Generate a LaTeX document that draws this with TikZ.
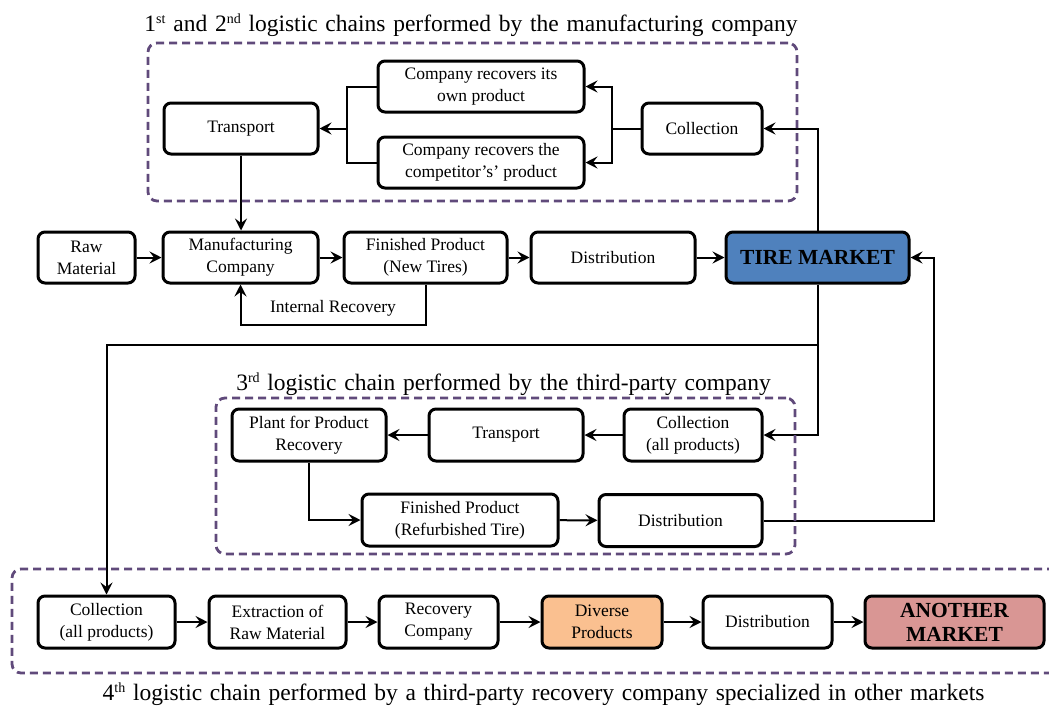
\documentclass[tikz,border=0pt]{standalone}
\usepackage{fontspec}
\setmainfont{Liberation Serif}
\usetikzlibrary{arrows.meta}
\definecolor{dashpurple}{HTML}{604A7B}
\definecolor{tireblue}{HTML}{4F81BD}
\definecolor{diverseorange}{HTML}{FAC090}
\definecolor{anotherred}{HTML}{D99694}
\newcommand\mytitlefont{\fontsize{23.5}{26}\selectfont\spaceskip 0.33em plus 0.1em\relax}
\newcommand\mysup[1]{\raisebox{0.33em}{\fontsize{14}{14}\selectfont #1}}
\begin{document}
\begin{tikzpicture}[x=1pt,y=-1pt,
  box/.style={draw, line width=3pt, rounded corners=7pt, fill=white, align=center,
              font=\fontsize{17.5}{22}\selectfont, inner sep=0pt},
  market/.style={box, font=\fontsize{21.5}{24}\selectfont\bfseries},
  conn/.style={line width=2pt, -{Stealth[length=12pt,width=12pt,inset=4.5pt]}},
  plain/.style={line width=2pt},
  group/.style={draw=dashpurple, line width=2.8pt, dash pattern=on 8pt off 5pt,
                rounded corners=9pt, inner sep=0pt},
  ttl/.style={font=\mytitlefont, inner sep=0pt, anchor=base},
  lbl/.style={font=\fontsize{17.5}{22}\selectfont, inner sep=1pt}
]
\useasboundingbox (0,0) rectangle (1049,707);

% ---------- 1st and 2nd chains ----------
\node[box, minimum width=206, minimum height=51] (own) at (481,86.5)
  {Company recovers its\\own product};
\node[box, minimum width=206, minimum height=51] (comp) at (481,162.5)
  {Company recovers the\\competitor's' product};
\node[box, minimum width=154, minimum height=51] (trans1) at (241,128.5) {Transport};
\node[box, minimum width=120, minimum height=51] (coll1) at (702,128.5) {Collection};

% ---------- main row ----------
\node[box, minimum width=97, minimum height=51] (raw) at (86.5,257.5) {Raw\\Material};
\node[box, minimum width=155, minimum height=51] (manu) at (240.5,257.5) {Manufacturing\\Company};
\node[box, minimum width=163, minimum height=51] (fin) at (425.5,257.5) {Finished Product\\(New Tires)};
\node[box, minimum width=164, minimum height=51] (dist) at (613,257.5) {Distribution};
\node[market, fill=tireblue, minimum width=183, minimum height=51] (tire) at (817.5,257.5) {TIRE MARKET};

% ---------- 3rd chain ----------
\node[box, minimum width=154, minimum height=52] (plant) at (309,435) {Plant for Product\\Recovery};
\node[box, minimum width=154, minimum height=52] (trans3) at (506,435) {Transport};
\node[box, minimum width=138, minimum height=52] (coll3) at (693,435) {Collection\\(all products)};
\node[box, minimum width=196, minimum height=52] (fin3) at (460,520) {Finished Product\\(Refurbished Tire)};
\node[box, minimum width=163, minimum height=52] (dist3) at (680.5,520.5) {Distribution};

% ---------- 4th chain ----------
\node[box, minimum width=137, minimum height=52] (c4) at (106.5,622) {Collection\\(all products)};
\node[box, minimum width=137, minimum height=52] (ext) at (277.5,622) {Extraction of\\Raw Material};
\node[box, minimum width=119, minimum height=52] (rec) at (438.5,622) {Recovery\\Company};
\node[box, fill=diverseorange, minimum width=120, minimum height=52] (div) at (602,622) {Diverse\\Products};
\node[box, minimum width=129, minimum height=52] (dist4) at (767.5,622) {Distribution};
\node[market, fill=anotherred, minimum width=179, minimum height=52] (ano) at (954.5,622) {ANOTHER\\MARKET};

% ---------- connectors ----------
\coordinate (jr) at (612,128.5);
\coordinate (jl) at (347,128.5);
\draw[plain] (coll1.west) -- (jr);
\draw[conn] (jr) |- (own.east);
\draw[conn] (jr) |- (comp.east);
\draw[plain] (own.west) -| (jl) |- (comp.west);
\draw[conn] (jl) -- (trans1.east);
\draw[conn] (trans1.south) -- (trans1.south |- manu.north);

\draw[conn] (raw) -- (manu);
\draw[conn] (manu) -- (fin);
\draw[conn] (fin) -- (dist);
\draw[conn] (dist) -- (tire);
\coordinate (ir) at (425.5,325);
\draw[conn] (fin.south) -- (ir) -| (manu.south);
\node[lbl] (irl) at (333,308) {Internal Recovery};

\draw[conn] (tire.north) |- (coll1.east);
\draw[conn] (tire.south) |- (coll3.east);
\coordinate (tb) at (817.5,345);
\draw[conn] (tb) -| (c4.north);

\draw[conn] (coll3) -- (trans3);
\draw[conn] (trans3) -- (plant);
\draw[conn] (plant.south) |- (fin3.west);
\draw[conn] (fin3) -- (dist3);
\coordinate (rt) at (934,257.5);
\draw[conn] (dist3.east) -| (rt) -- (tire.east);

\draw[conn] (c4) -- (ext);
\draw[conn] (ext) -- (rec);
\draw[conn] (rec) -- (div);
\draw[conn] (div) -- (dist4);
\draw[conn] (dist4) -- (ano);

% ---------- groups ----------
\node[group, minimum width=649, minimum height=158] (g1) at (472.5,122) {};
\node[group, minimum width=579, minimum height=156] (g3) at (505.5,476) {};
\node[group, minimum width=1052, minimum height=104] (g4) at (538,621) {};

% ---------- titles ----------
\node[ttl] (t1) at (471,31) {1\mysup{st} and 2\mysup{nd} logistic chains performed by the manufacturing company};
\node[ttl] (t3) at (503.5,390) {3\mysup{rd} logistic chain performed by the third-party company};
\node[ttl] (t4) at (543.5,700) {4\mysup{th} logistic chain performed by a third-party recovery company specialized in other markets};
\end{tikzpicture}
\end{document}
